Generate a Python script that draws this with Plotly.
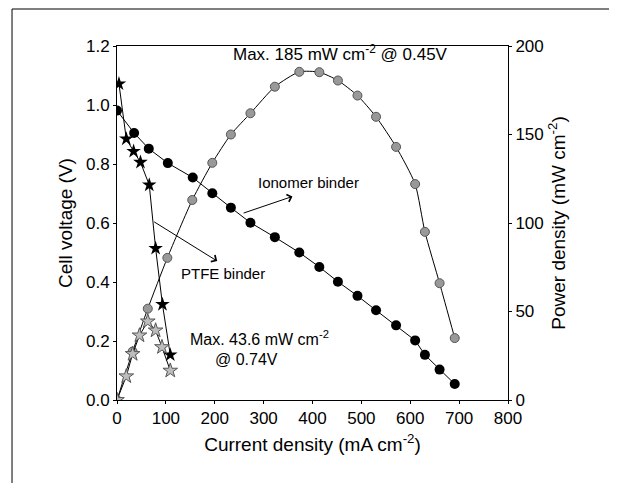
import plotly.graph_objects as go

# Ionomer binder
ion_current = [0, 35, 65, 104, 155, 195, 233, 273, 323, 373, 414, 452, 492, 530, 571, 610, 630, 660, 691]
ion_voltage = [0.981, 0.905, 0.852, 0.803, 0.754, 0.701, 0.652, 0.601, 0.552, 0.500, 0.451, 0.401, 0.353, 0.304, 0.253, 0.202, 0.153, 0.103, 0.054]
ion_pcurrent = [0, 32, 63, 103, 154, 195, 233, 273, 323, 373, 414, 452, 492, 530, 571, 610, 630, 660, 691]
ion_power = [0, 27.4, 51.6, 80.3, 113, 134, 150, 162, 177, 185.4, 185.2, 180.5, 172, 160, 143, 122, 95, 66, 35]

# PTFE binder
ptfe_current = [4, 19, 34, 48, 66, 79, 93, 109]
ptfe_voltage = [1.072, 0.885, 0.843, 0.806, 0.729, 0.514, 0.324, 0.153]
ptfe_pcurrent = [0, 19, 32, 46, 63, 79, 92, 109]
ptfe_power = [0, 13.4, 26, 36.5, 44.4, 39.3, 29.9, 16.6]

FONT = "Liberation Sans, Arial, sans-serif"
fig = go.Figure()

fig.add_trace(go.Scatter(x=ion_pcurrent, y=ion_power, mode="lines+markers",
                         line=dict(color="black", width=1, shape="spline", smoothing=0.6),
                         marker=dict(symbol="circle", size=9, color="#999999",
                                     line=dict(color="#555", width=1)), yaxis="y2"))
fig.add_trace(go.Scatter(x=ptfe_pcurrent, y=ptfe_power, mode="lines+markers",
                         line=dict(color="black", width=1),
                         marker=dict(symbol="star", size=11, color="#bdbdbd",
                                     line=dict(color="#555", width=1)), yaxis="y2"))
fig.add_trace(go.Scatter(x=ion_current, y=ion_voltage, mode="lines+markers",
                         line=dict(color="black", width=1),
                         marker=dict(symbol="circle", size=10, color="black"), yaxis="y"))
fig.add_trace(go.Scatter(x=ptfe_current, y=ptfe_voltage, mode="lines+markers",
                         line=dict(color="black", width=1),
                         marker=dict(symbol="star", size=11, color="black"), yaxis="y"))

ann = [
    dict(x=457, y=1.177, text="Max. 185 mW cm<sup>-2</sup> @ 0.45V", showarrow=False, size=17),
    dict(x=391, y=0.738, text="Ionomer binder", showarrow=False, size=15),
    dict(x=216, y=0.429, text="PTFE binder", showarrow=False, size=15),
    dict(x=292, y=0.209, text="Max. 43.6 mW cm<sup>-2</sup>", showarrow=False, size=16),
    dict(x=265, y=0.137, text="@ 0.74V", showarrow=False, size=16),
    dict(x=359, y=0.690, ax=256, ay=0.632, axref="x", ayref="y",
         text="", showarrow=True, arrowhead=4, arrowsize=1.5, arrowwidth=1, arrowcolor="black", size=12),
    dict(x=205, y=0.471, ax=73, ay=0.607, axref="x", ayref="y",
         text="", showarrow=True, arrowhead=4, arrowsize=1.5, arrowwidth=1, arrowcolor="black", size=12),
]
for a in ann:
    a["xref"] = "x"
    a["yref"] = "y"
    a["font"] = dict(family=FONT, color="black", size=a.pop("size"))
fig.update_layout(annotations=ann)

# outer frame of the figure
fig.add_shape(type="rect", xref="paper", yref="paper", x0=-0.2685, x1=1.2737, y0=-0.35, y1=1.1045,
              line=dict(color="black", width=1))

fig.update_layout(
    width=609, height=475,
    margin=dict(l=109, r=109, t=38, b=83),
    paper_bgcolor="white", plot_bgcolor="white",
    showlegend=False,
    font=dict(family=FONT, color="black", size=17),
    xaxis=dict(range=[0, 800], dtick=100, ticks="outside", ticklen=3, tickcolor="black",
               showline=True, linecolor="black", linewidth=1, mirror=True, showgrid=False,
               zeroline=False, tickfont=dict(size=17),
               title=dict(text="Current density (mA cm<sup>-2</sup>)", font=dict(size=19), standoff=10)),
    yaxis=dict(range=[0, 1.2], dtick=0.2, tickformat=".1f", ticks="outside", ticklen=3, tickcolor="black",
               showline=True, linecolor="black", linewidth=1, showgrid=False, zeroline=False,
               tickfont=dict(size=17),
               title=dict(text="Cell voltage (V)", font=dict(size=19), standoff=8)),
    yaxis2=dict(range=[0, 200], dtick=50, overlaying="y", side="right", ticks="outside", ticklen=3,
                tickcolor="black", showline=True, linecolor="black", linewidth=1, showgrid=False,
                zeroline=False, tickfont=dict(size=17),
                title=dict(text="Power density (mW cm<sup>-2</sup>)", font=dict(size=19), standoff=8)),
)

fig.write_html("out.html")
